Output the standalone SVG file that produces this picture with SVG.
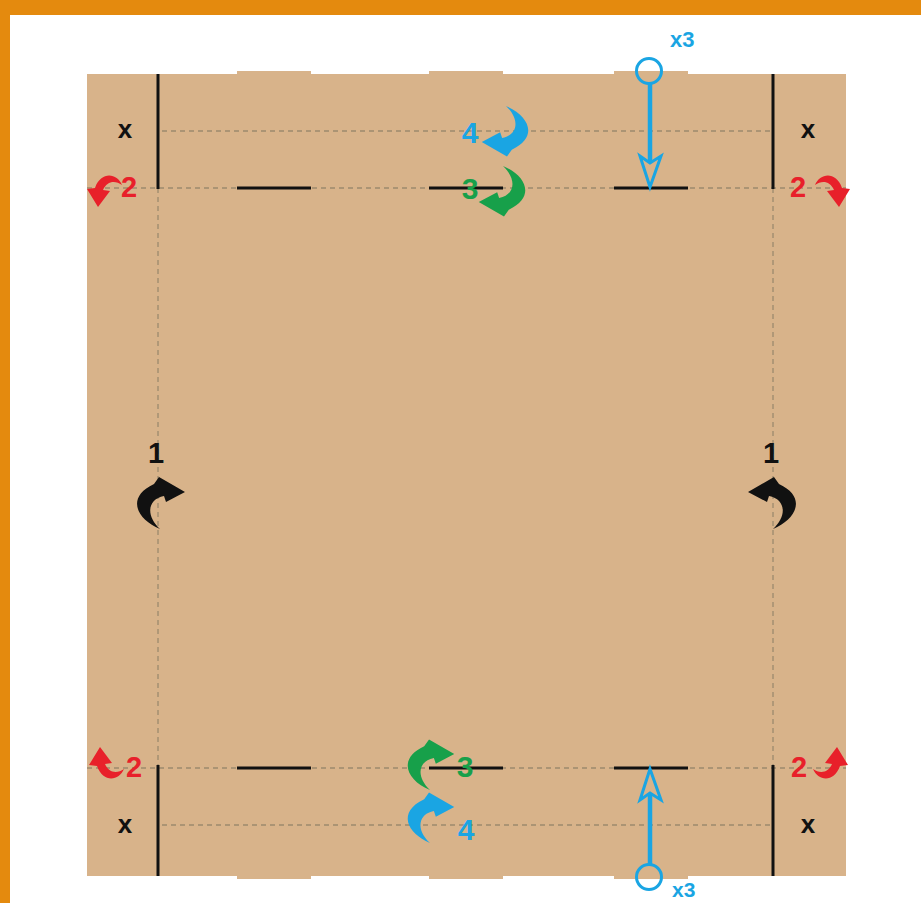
<svg xmlns="http://www.w3.org/2000/svg" width="921" height="903" viewBox="0 0 921 903">
<style>
.card{fill:#D8B38A}
.dash{stroke:#9C8A6E;stroke-width:1.3;stroke-dasharray:5 4;fill:none}
.cut{stroke:#111;stroke-width:3;fill:none}
.lbl{font-family:"Liberation Sans",Arial,sans-serif;font-weight:bold}
.blk{fill:#111}
.red{fill:#E8202A}
.blue{fill:#1AA5E3}
.green{fill:#17A04A}
.bl-line{stroke:#1AA5E3;stroke-width:4.5;fill:none}
.bl-head{stroke:#1AA5E3;stroke-width:3;fill:#D8B38A;stroke-linejoin:miter}
.bl-ring{stroke:#1AA5E3;stroke-width:3;fill:none}
</style>
<defs>
<path id="curl" d="M0,0 C-24,-10 -34,-32 -6,-45 L-1,-52 L25,-37 L6,-27 L4,-33 C-12,-30 -15,-14 0,0 Z"/>
<path id="redcurl" d="M122,185 C117,173 101,171 95,188 L87,189 L98,207 L110,191 L103,190 C107,181 115,180 122,185 Z"/>
</defs>
<rect x="0" y="0" width="921" height="903" fill="#FFFFFF"/>
<rect x="0" y="0" width="921" height="15" fill="#E48A0E"/>
<rect x="0" y="0" width="10" height="903" fill="#E48A0E"/>
<g id="board">
<rect class="card" x="87" y="74" width="759" height="802"/>
<rect class="card" x="237" y="71" width="74" height="6"/>
<rect class="card" x="429" y="71" width="74" height="6"/>
<rect class="card" x="614" y="71" width="74" height="6"/>
<rect class="card" x="237" y="872" width="74" height="7"/>
<rect class="card" x="429" y="872" width="74" height="7"/>
<rect class="card" x="614" y="872" width="74" height="7"/>
</g>
<g id="folds">
<line class="dash" x1="162" y1="131" x2="770" y2="131"/>
<line class="dash" x1="87" y1="188" x2="846" y2="188"/>
<line class="dash" x1="87" y1="768" x2="846" y2="768"/>
<line class="dash" x1="162" y1="825" x2="770" y2="825"/>
<line class="dash" x1="158" y1="188" x2="158" y2="765"/>
<line class="dash" x1="773" y1="188" x2="773" y2="765"/>
</g>
<g id="cuts">
<line class="cut" x1="158" y1="74" x2="158" y2="189"/>
<line class="cut" x1="773" y1="74" x2="773" y2="189"/>
<line class="cut" x1="158" y1="765" x2="158" y2="876"/>
<line class="cut" x1="773" y1="765" x2="773" y2="876"/>
<line class="cut" x1="237" y1="188" x2="311" y2="188"/>
<line class="cut" x1="429" y1="188" x2="503" y2="188"/>
<line class="cut" x1="614" y1="188" x2="688" y2="188"/>
<line class="cut" x1="237" y1="768" x2="311" y2="768"/>
<line class="cut" x1="429" y1="768" x2="503" y2="768"/>
<line class="cut" x1="614" y1="768" x2="688" y2="768"/>
</g>
<g id="step1-left"><use href="#curl" class="blk" transform="translate(160,529)"/><text class="lbl blk" x="156" y="463" font-size="29" text-anchor="middle">1</text></g>
<g id="step1-right"><use href="#curl" class="blk" transform="translate(773,529) scale(-1,1)"/><text class="lbl blk" x="771" y="463" font-size="29" text-anchor="middle">1</text></g>
<g id="step2-tl"><use href="#redcurl" class="red"/><text class="lbl red" x="121" y="197" font-size="29">2</text></g>
<g id="step2-tr"><use href="#redcurl" class="red" transform="translate(937,0) scale(-1,1)"/><text class="lbl red" x="790" y="197" font-size="29">2</text></g>
<g id="step2-bl"><use href="#redcurl" class="red" transform="translate(2,954) scale(1,-1)"/><text class="lbl red" x="126" y="777" font-size="29">2</text></g>
<g id="step2-br"><use href="#redcurl" class="red" transform="translate(935,954) scale(-1,-1)"/><text class="lbl red" x="791" y="777" font-size="29">2</text></g>
<g id="step3-top"><use href="#curl" class="green" transform="translate(503,166) rotate(180) scale(0.97)"/><text class="lbl green" x="470" y="199" font-size="30" text-anchor="middle">3</text></g>
<g id="step4-top"><use href="#curl" class="blue" transform="translate(506,106) rotate(180) scale(0.97)"/><text class="lbl blue" x="470" y="143" font-size="30" text-anchor="middle">4</text></g>
<g id="step3-bottom"><use href="#curl" class="green" transform="translate(430,790) scale(0.97)"/><text class="lbl green" x="465" y="777" font-size="30" text-anchor="middle">3</text></g>
<g id="step4-bottom"><use href="#curl" class="blue" transform="translate(430,843) scale(0.97)"/><text class="lbl blue" x="466" y="840" font-size="30" text-anchor="middle">4</text></g>
<g id="x-tl"><text class="lbl blk" x="125" y="138" font-size="26" text-anchor="middle">x</text></g>
<g id="x-tr"><text class="lbl blk" x="808" y="138" font-size="26" text-anchor="middle">x</text></g>
<g id="x-bl"><text class="lbl blk" x="125" y="833" font-size="26" text-anchor="middle">x</text></g>
<g id="x-br"><text class="lbl blk" x="808" y="833" font-size="26" text-anchor="middle">x</text></g>
<g id="push-top"><circle class="bl-ring" cx="649" cy="71" r="12.5"/><text class="lbl blue" x="670" y="47" font-size="22">x3</text></g>
<g id="push-bottom"><circle class="bl-ring" cx="649" cy="877" r="12.5"/><text class="lbl blue" x="672" y="897" font-size="21">x3</text></g>
<g id="connectors">
<line class="bl-line" x1="650" y1="84" x2="650" y2="164"/>
<path class="bl-head" d="M640,156 L650,187 L661,156 L650,163 Z"/>
<line class="bl-line" x1="650" y1="864" x2="650" y2="792"/>
<path class="bl-head" d="M640,800 L650,769 L661,800 L650,793 Z"/>
</g>
</svg>
